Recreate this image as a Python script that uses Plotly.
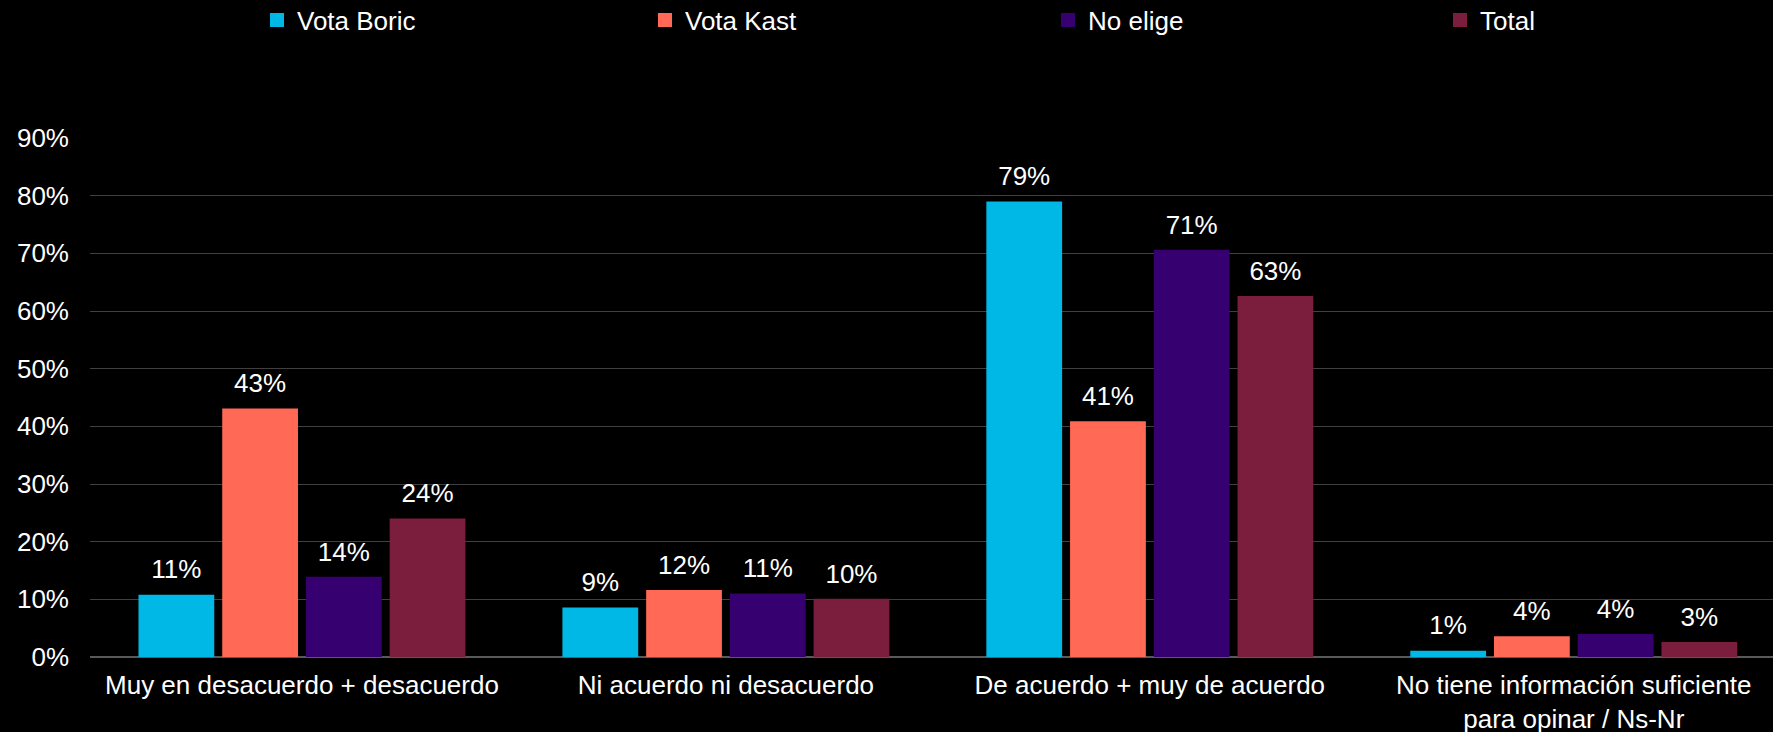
import plotly.graph_objects as go

categories = [
    "Muy en desacuerdo + desacuerdo",
    "Ni acuerdo ni desacuerdo",
    "De acuerdo + muy de acuerdo",
    "No tiene información suficiente<br>para opinar / Ns-Nr",
]
series_names = ["Vota Boric", "Vota Kast", "No elige", "Total"]
vota_boric = [10.8, 8.6, 79.0, 1.1]
vota_kast = [43.1, 11.6, 40.9, 3.6]
no_elige = [13.9, 11.0, 70.6, 4.0]
total = [24.0, 10.1, 62.6, 2.6]
colors = ["#00B8E6", "#FF6955", "#370070", "#7B1E3D"]
y_ticks = [0, 10, 20, 30, 40, 50, 60, 70, 80, 90]
y_tick_labels = ["0%", "10%", "20%", "30%", "40%", "50%", "60%", "70%", "80%", "90%"]

FONT = "Liberation Sans, Arial, sans-serif"

legend_ids = ["legend", "legend2", "legend3", "legend4"]
legend_x_px = [257, 645, 1048, 1440]

fig = go.Figure()
all_series = [vota_boric, vota_kast, no_elige, total]
for name, vals, col in zip(series_names, all_series, colors):
    fig.add_trace(go.Bar(
        name=name, x=categories, y=vals,
        marker=dict(color=col, line=dict(width=0)),
        showlegend=False, hoverinfo="skip",
    ))
# value labels: grouped scatter text sitting above each bar
for name, vals in zip(series_names, all_series):
    fig.add_trace(go.Scatter(
        x=categories, y=vals, mode="markers+text",
        marker=dict(size=14, opacity=0),
        texttemplate="%{y:.0f}%", textposition="top center",
        textfont=dict(color="white", size=26, family=FONT),
        cliponaxis=False, showlegend=False, hoverinfo="skip",
    ))
# legend entries (on a hidden overlay axis so they don't join the grouping)
for name, col, lid in zip(series_names, colors, legend_ids):
    fig.add_trace(go.Scatter(
        x=[None], y=[None], mode="markers", name=name,
        marker=dict(symbol="square", size=14, color=col),
        legend=lid, showlegend=True, xaxis="x2", yaxis="y2",
    ))

legend_layout = {}
for lid, px in zip(legend_ids, legend_x_px):
    legend_layout[lid] = dict(
        orientation="h", xref="container", yref="container",
        x=px / 1773, y=1 - 20 / 732, xanchor="left", yanchor="middle",
        font=dict(size=26, color="white", family=FONT),
        bgcolor="rgba(0,0,0,0)", itemsizing="trace",
    )

fig.update_layout(
    width=1773, height=732,
    paper_bgcolor="black", plot_bgcolor="black",
    margin=dict(l=90, r=0, t=138, b=75, autoexpand=False),
    barmode="group", bargap=0.21, bargroupgap=0.095,
    scattermode="group", scattergap=0.21,
    font=dict(family=FONT, size=26, color="white"),
    showlegend=True,
    xaxis=dict(
        range=[-0.5, 3.47], showgrid=False, ticks="", showline=False,
        tickfont=dict(size=26, color="white", family=FONT),
        ticklabelstandoff=10, tickangle=0, automargin=False,
    ),
    yaxis=dict(
        range=[0, 90], tickmode="array", tickvals=y_ticks, ticktext=y_tick_labels,
        showgrid=True, gridcolor="#404040", gridwidth=1,
        zeroline=True, zerolinecolor="#595959", zerolinewidth=2,
        tickfont=dict(size=26, color="white", family=FONT),
        ticklabelstandoff=20, automargin=False,
    ),
    xaxis2=dict(overlaying="x", visible=False, range=[0, 1]),
    yaxis2=dict(overlaying="y", visible=False, range=[0, 1]),
    **legend_layout,
)

fig.write_html(
    "out.html",
    config={"displayModeBar": False},
    post_script="document.body.style.margin='0';document.body.style.background='black';",
)
